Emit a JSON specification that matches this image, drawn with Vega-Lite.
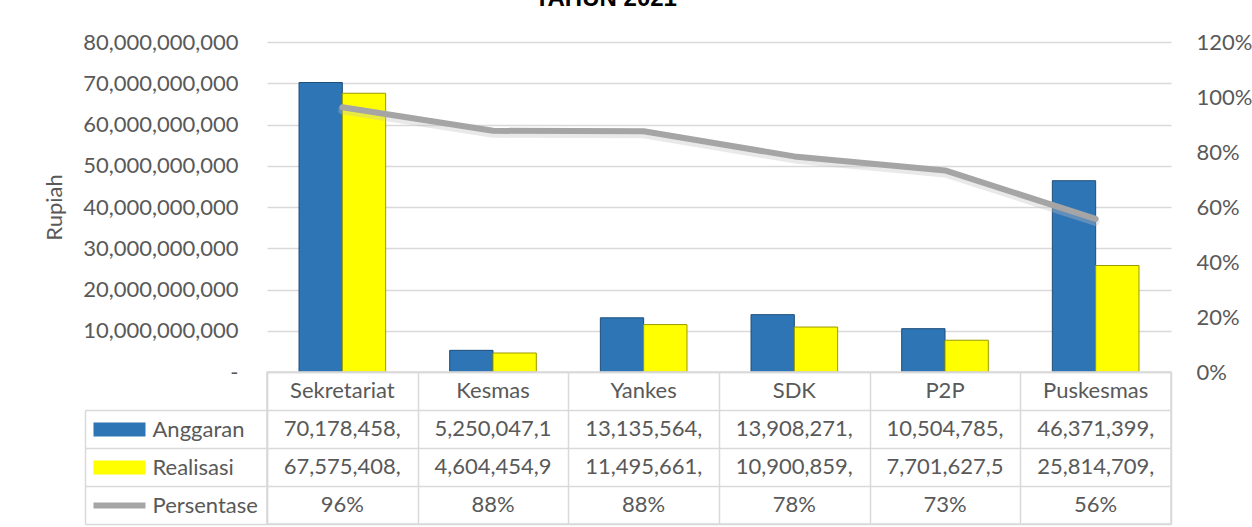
{
  "$schema": "https://vega.github.io/schema/vega-lite/v6.json",
  "padding": {"left": 43, "top": -13, "right": 2, "bottom": 2},
  "title": {"text": "TAHUN 2021", "font": "Liberation Sans", "fontSize": 24, "fontWeight": "bold", "color": "#000000", "anchor": "middle", "frame": "bounds", "dx": -42, "offset": 20},
  "datasets": {
    "d": [
      {"kategori": "Sekretariat", "anggaran": 70178458000, "realisasi": 67575408000, "persen": 0.963},
      {"kategori": "Kesmas", "anggaran": 5250047100, "realisasi": 4604454900, "persen": 0.877},
      {"kategori": "Yankes", "anggaran": 13135564000, "realisasi": 11495661000, "persen": 0.8752},
      {"kategori": "SDK", "anggaran": 13908271000, "realisasi": 10900859000, "persen": 0.784},
      {"kategori": "P2P", "anggaran": 10504785000, "realisasi": 7701627500, "persen": 0.733},
      {"kategori": "Puskesmas", "anggaran": 46371399000, "realisasi": 25814709000, "persen": 0.557}
    ]
  },
  "data": {"name": "d"},
  "spacing": 0,
  "bounds": "flush",
  "config": {
    "font": "Lato",
    "view": {"stroke": null},
    "axis": {"labelFont": "Lato", "labelFontSize": 22, "labelColor": "#595959", "titleFont": "Lato", "titleFontSize": 22, "titleColor": "#595959", "titleFontWeight": "normal"},
    "text": {"font": "Lato", "fontSize": 22, "color": "#595959"}
  },
  "resolve": {"scale": {"x": "independent", "y": "independent"}},
  "vconcat": [
    {
      "width": 904,
      "height": 330,
      "layer": [
        {
          "transform": [{"fold": ["anggaran", "realisasi"], "as": ["seri", "nilai"]}],
          "mark": {"type": "bar", "strokeWidth": 1},
          "encoding": {
            "x": {"field": "kategori", "type": "nominal", "sort": null, "scale": {"type": "band", "paddingInner": 0.425, "paddingOuter": 0.2125}, "axis": null},
            "xOffset": {"field": "seri", "type": "nominal", "sort": ["anggaran", "realisasi"]},
            "y": {
              "field": "nilai", "type": "quantitative",
              "scale": {"domain": [0, 80000000000], "nice": false},
              "axis": {
                "orient": "left",
                "values": [0, 10000000000, 20000000000, 30000000000, 40000000000, 50000000000, 60000000000, 70000000000, 80000000000],
                "format": ",.0f",
                "labelExpr": "datum.value == 0 ? '-' : datum.label",
                "domain": false, "ticks": false, "labelPadding": 29,
                "grid": true, "gridColor": "#D9D9D9", "gridWidth": 1.3,
                "title": "Rupiah", "titlePadding": 16
              }
            },
            "color": {"field": "seri", "type": "nominal", "scale": {"domain": ["anggaran", "realisasi"], "range": ["#2E75B6", "#FFFF00"]}, "legend": null},
            "stroke": {"field": "seri", "type": "nominal", "scale": {"domain": ["anggaran", "realisasi"], "range": ["#1F4E79", "#9A9A00"]}, "legend": null}
          }
        },
        {
          "mark": {"type": "line", "color": "#BFBFBF", "strokeWidth": 8, "opacity": 0.35, "yOffset": 3, "strokeCap": "round", "strokeJoin": "round"},
          "encoding": {
            "x": {"field": "kategori", "type": "nominal", "sort": null},
            "y": {"field": "persen", "type": "quantitative", "scale": {"domain": [0, 1.2], "nice": false}, "axis": null}
          }
        },
        {
          "mark": {"type": "line", "color": "#A5A5A5", "strokeWidth": 6, "strokeCap": "round", "strokeJoin": "round"},
          "encoding": {
            "x": {"field": "kategori", "type": "nominal", "sort": null},
            "y": {
              "field": "persen", "type": "quantitative",
              "scale": {"domain": [0, 1.2], "nice": false},
              "axis": {"orient": "right", "format": ".0%", "values": [0, 0.2, 0.4, 0.6, 0.8, 1, 1.2], "grid": false, "domain": false, "ticks": false, "labelPadding": 25, "title": null}
            }
          }
        }
      ],
      "resolve": {"scale": {"y": "independent"}}
    },
    {
      "width": 904,
      "height": 152,
      "view": {"stroke": "#D9D9D9", "strokeWidth": 1.5},
      "encoding": {
        "x": {"field": "kategori", "type": "nominal", "sort": null, "scale": {"type": "band", "paddingInner": 0, "paddingOuter": 0},
          "axis": {"orient": "top", "labels": false, "ticks": false, "domain": false, "grid": true, "tickBand": "extent", "gridColor": "#D9D9D9", "gridWidth": 1.5, "title": null}}
      },
      "layer": [
        {
          "mark": {"type": "text"},
          "encoding": {
            "y": {"datum": "Kategori", "type": "nominal",
              "scale": {"type": "band", "domain": ["Kategori", "Anggaran", "Realisasi", "Persentase"], "paddingInner": 0, "paddingOuter": 0},
              "axis": {
                "orient": "left", "domain": true, "domainColor": "#D9D9D9", "domainWidth": 1.5,
                "ticks": true, "tickBand": "extent", "tickSize": 182, "tickWidth": 1.5,
                "tickColor": {"condition": {"test": "datum.extra", "value": "transparent"}, "value": "#D9D9D9"},
                "grid": true, "gridColor": "#D9D9D9", "gridWidth": 1.5,
                "labelExpr": "datum.value === 'Kategori' ? '' : datum.value",
                "labelAlign": "left", "labelPadding": -67, "title": null
              }
            },
            "text": {"field": "kategori", "type": "nominal"}
          }
        },
        {
          "mark": {"type": "text", "limit": 122, "ellipsis": "\u200b"},
          "encoding": {
            "y": {"datum": "Anggaran", "type": "nominal",
              "scale": {"type": "band", "domain": ["Kategori", "Anggaran", "Realisasi", "Persentase"], "paddingInner": 0, "paddingOuter": 0},
              "axis": {
                "orient": "left", "offset": 122, "domain": false, "labels": false, "grid": false,
                "ticks": true, "tickSize": 52,
                "tickWidth": {"condition": {"test": "datum.value === 'Persentase'", "value": 6}, "value": 14},
                "tickColor": {"condition": [
                  {"test": "datum.value === 'Anggaran'", "value": "#2E75B6"},
                  {"test": "datum.value === 'Realisasi'", "value": "#FFFF00"},
                  {"test": "datum.value === 'Persentase'", "value": "#A5A5A5"}
                ], "value": "transparent"},
                "title": null
              }
            },
            "text": {"field": "anggaran", "type": "quantitative", "format": ",.0f"}
          }
        },
        {
          "mark": {"type": "text", "limit": 122, "ellipsis": "\u200b"},
          "encoding": {
            "y": {"datum": "Realisasi", "type": "nominal",
              "scale": {"type": "band", "domain": ["Kategori", "Anggaran", "Realisasi", "Persentase"], "paddingInner": 0, "paddingOuter": 0},
              "axis": {
                "orient": "left", "offset": 182, "domain": true, "domainColor": "#D9D9D9", "domainWidth": 1.5,
                "domainDash": [0, 38, 200],
                "labels": false, "grid": false, "ticks": false, "title": null
              }
            },
            "text": {"field": "realisasi", "type": "quantitative", "format": ",.0f"}
          }
        },
        {
          "mark": {"type": "text"},
          "encoding": {
            "y": {"datum": "Persentase", "type": "nominal",
              "scale": {"type": "band", "domain": ["Kategori", "Anggaran", "Realisasi", "Persentase"], "paddingInner": 0, "paddingOuter": 0},
              "axis": null
            },
            "text": {"field": "persen", "type": "quantitative", "format": ".0%"}
          }
        }
      ],
      "resolve": {"axis": {"y": "independent"}}
    }
  ]
}
